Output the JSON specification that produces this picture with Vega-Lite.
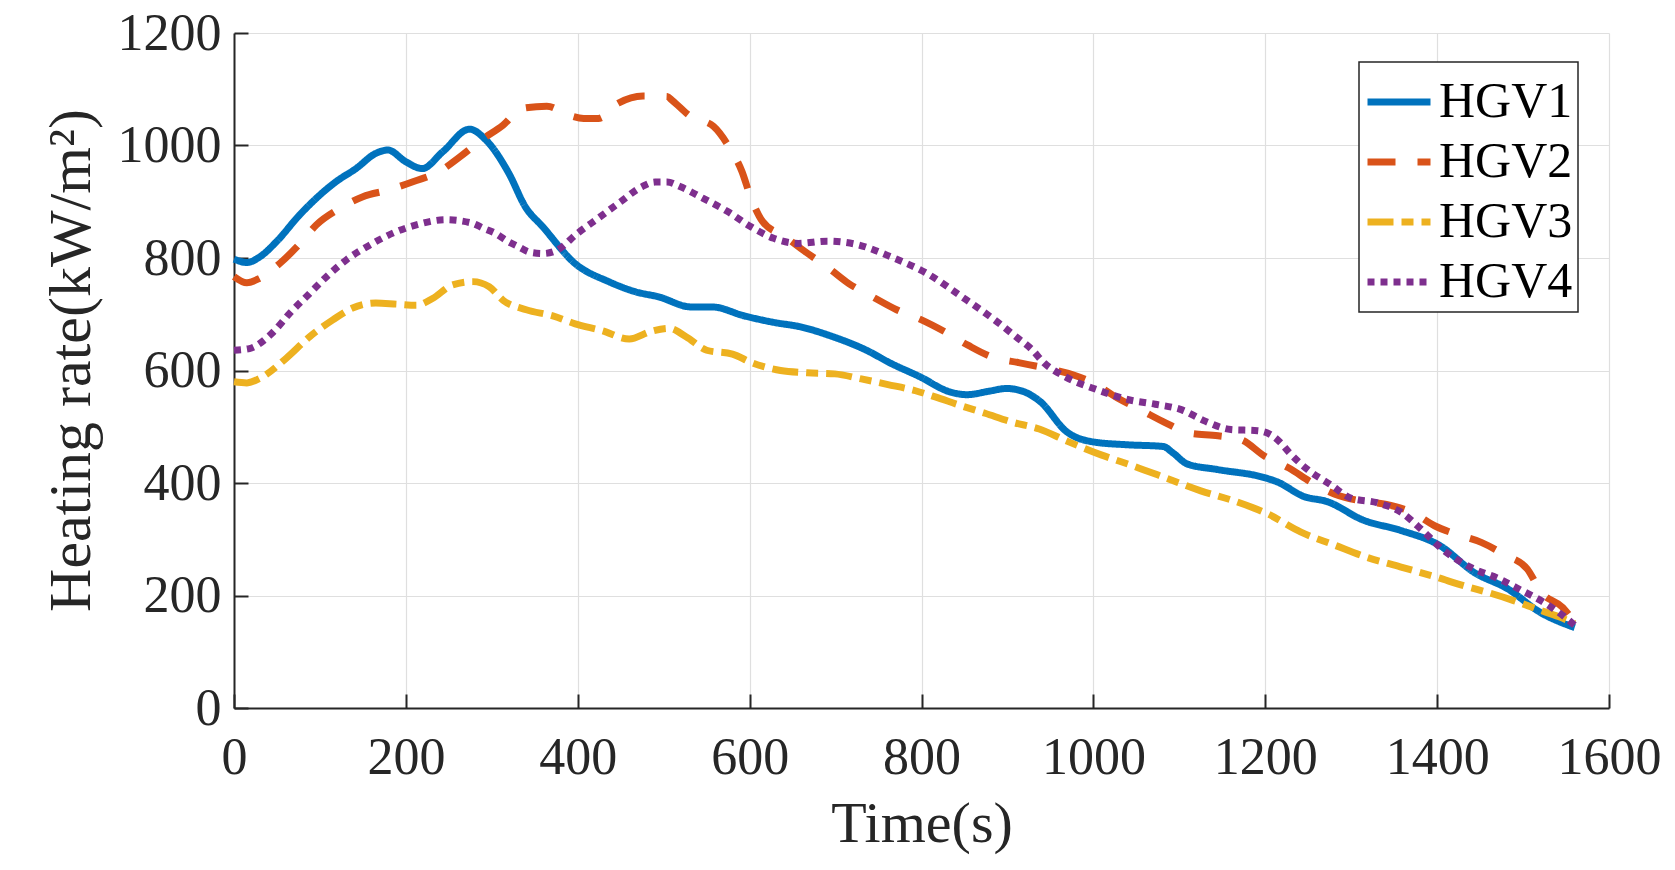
{
  "$schema": "https://vega.github.io/schema/vega-lite/v6.json",
  "width": 1375,
  "height": 675,
  "autosize": {"type": "none"},
  "padding": {"left": 234, "top": 33, "right": 66, "bottom": 162},
  "background": "white",
  "config": {
    "view": {"stroke": null},
    "font": "Liberation Serif",
    "axis": {
      "labelFont": "Liberation Serif",
      "titleFont": "Liberation Serif",
      "labelFontSize": 52,
      "titleFontSize": 58,
      "titleFontWeight": "normal",
      "labelColor": "#262626",
      "titleColor": "#262626",
      "domainColor": "#262626",
      "domainWidth": 2,
      "tickColor": "#262626",
      "tickWidth": 2,
      "tickSize": -14,
      "gridColor": "#dfdfdf",
      "gridWidth": 1.2,
      "labelFlush": false,
      "labelOverlap": false,
      "format": "d"
    },
    "legend": {
      "labelFont": "Liberation Serif",
      "labelFontSize": 50,
      "labelColor": "#000000"
    }
  },
  "data": {
    "values": [
      {"t": 0, "v": 798, "s": "HGV1"}, {"t": 15, "v": 792, "s": "HGV1"}, {"t": 30, "v": 802, "s": "HGV1"},
      {"t": 50, "v": 830, "s": "HGV1"}, {"t": 76, "v": 876, "s": "HGV1"}, {"t": 119, "v": 936, "s": "HGV1"},
      {"t": 142, "v": 959, "s": "HGV1"}, {"t": 165, "v": 986, "s": "HGV1"}, {"t": 179, "v": 992, "s": "HGV1"},
      {"t": 200, "v": 971, "s": "HGV1"}, {"t": 219, "v": 959, "s": "HGV1"}, {"t": 243, "v": 989, "s": "HGV1"},
      {"t": 274, "v": 1029, "s": "HGV1"}, {"t": 293, "v": 1010, "s": "HGV1"}, {"t": 320, "v": 950, "s": "HGV1"},
      {"t": 339, "v": 891, "s": "HGV1"}, {"t": 359, "v": 856, "s": "HGV1"}, {"t": 397, "v": 790, "s": "HGV1"},
      {"t": 436, "v": 758, "s": "HGV1"}, {"t": 467, "v": 740, "s": "HGV1"}, {"t": 494, "v": 731, "s": "HGV1"},
      {"t": 532, "v": 713, "s": "HGV1"}, {"t": 556, "v": 713, "s": "HGV1"}, {"t": 594, "v": 697, "s": "HGV1"},
      {"t": 630, "v": 685, "s": "HGV1"}, {"t": 658, "v": 678, "s": "HGV1"}, {"t": 697, "v": 660, "s": "HGV1"},
      {"t": 736, "v": 636, "s": "HGV1"}, {"t": 764, "v": 613, "s": "HGV1"}, {"t": 798, "v": 589, "s": "HGV1"},
      {"t": 833, "v": 562, "s": "HGV1"}, {"t": 853, "v": 557, "s": "HGV1"}, {"t": 878, "v": 563, "s": "HGV1"},
      {"t": 899, "v": 568, "s": "HGV1"}, {"t": 918, "v": 563, "s": "HGV1"}, {"t": 938, "v": 545, "s": "HGV1"},
      {"t": 969, "v": 491, "s": "HGV1"}, {"t": 1000, "v": 473, "s": "HGV1"}, {"t": 1039, "v": 468, "s": "HGV1"},
      {"t": 1081, "v": 465, "s": "HGV1"}, {"t": 1093, "v": 453, "s": "HGV1"}, {"t": 1109, "v": 434, "s": "HGV1"},
      {"t": 1144, "v": 424, "s": "HGV1"}, {"t": 1198, "v": 410, "s": "HGV1"}, {"t": 1214, "v": 402, "s": "HGV1"},
      {"t": 1245, "v": 376, "s": "HGV1"}, {"t": 1272, "v": 367, "s": "HGV1"}, {"t": 1314, "v": 334, "s": "HGV1"},
      {"t": 1357, "v": 316, "s": "HGV1"}, {"t": 1404, "v": 288, "s": "HGV1"}, {"t": 1443, "v": 241, "s": "HGV1"},
      {"t": 1482, "v": 212, "s": "HGV1"}, {"t": 1520, "v": 170, "s": "HGV1"}, {"t": 1560, "v": 143, "s": "HGV1"},

      {"t": 0, "v": 767, "s": "HGV2"}, {"t": 15, "v": 756, "s": "HGV2"}, {"t": 30, "v": 764, "s": "HGV2"},
      {"t": 53, "v": 790, "s": "HGV2"}, {"t": 77, "v": 826, "s": "HGV2"}, {"t": 96, "v": 859, "s": "HGV2"},
      {"t": 123, "v": 888, "s": "HGV2"}, {"t": 150, "v": 909, "s": "HGV2"}, {"t": 180, "v": 921, "s": "HGV2"},
      {"t": 209, "v": 936, "s": "HGV2"}, {"t": 238, "v": 953, "s": "HGV2"}, {"t": 263, "v": 980, "s": "HGV2"},
      {"t": 288, "v": 1010, "s": "HGV2"}, {"t": 313, "v": 1036, "s": "HGV2"}, {"t": 335, "v": 1066, "s": "HGV2"},
      {"t": 364, "v": 1070, "s": "HGV2"}, {"t": 391, "v": 1053, "s": "HGV2"}, {"t": 407, "v": 1048, "s": "HGV2"},
      {"t": 424, "v": 1048, "s": "HGV2"}, {"t": 447, "v": 1075, "s": "HGV2"}, {"t": 476, "v": 1088, "s": "HGV2"},
      {"t": 504, "v": 1087, "s": "HGV2"}, {"t": 510, "v": 1080, "s": "HGV2"}, {"t": 531, "v": 1052, "s": "HGV2"},
      {"t": 558, "v": 1034, "s": "HGV2"}, {"t": 577, "v": 995, "s": "HGV2"}, {"t": 591, "v": 954, "s": "HGV2"},
      {"t": 601, "v": 909, "s": "HGV2"}, {"t": 615, "v": 865, "s": "HGV2"}, {"t": 641, "v": 838, "s": "HGV2"},
      {"t": 664, "v": 812, "s": "HGV2"}, {"t": 692, "v": 782, "s": "HGV2"}, {"t": 715, "v": 755, "s": "HGV2"},
      {"t": 743, "v": 731, "s": "HGV2"}, {"t": 771, "v": 708, "s": "HGV2"}, {"t": 800, "v": 690, "s": "HGV2"},
      {"t": 827, "v": 669, "s": "HGV2"}, {"t": 854, "v": 645, "s": "HGV2"}, {"t": 882, "v": 624, "s": "HGV2"},
      {"t": 913, "v": 614, "s": "HGV2"}, {"t": 942, "v": 605, "s": "HGV2"}, {"t": 977, "v": 592, "s": "HGV2"},
      {"t": 1001, "v": 577, "s": "HGV2"}, {"t": 1028, "v": 551, "s": "HGV2"}, {"t": 1055, "v": 530, "s": "HGV2"},
      {"t": 1084, "v": 507, "s": "HGV2"}, {"t": 1111, "v": 489, "s": "HGV2"}, {"t": 1145, "v": 484, "s": "HGV2"},
      {"t": 1172, "v": 477, "s": "HGV2"}, {"t": 1199, "v": 448, "s": "HGV2"}, {"t": 1227, "v": 427, "s": "HGV2"},
      {"t": 1254, "v": 401, "s": "HGV2"}, {"t": 1281, "v": 380, "s": "HGV2"}, {"t": 1312, "v": 368, "s": "HGV2"},
      {"t": 1341, "v": 362, "s": "HGV2"}, {"t": 1372, "v": 347, "s": "HGV2"}, {"t": 1397, "v": 324, "s": "HGV2"},
      {"t": 1422, "v": 309, "s": "HGV2"}, {"t": 1452, "v": 294, "s": "HGV2"}, {"t": 1479, "v": 272, "s": "HGV2"},
      {"t": 1505, "v": 247, "s": "HGV2"}, {"t": 1521, "v": 206, "s": "HGV2"}, {"t": 1546, "v": 179, "s": "HGV2"},
      {"t": 1561, "v": 150, "s": "HGV2"},

      {"t": 0, "v": 580, "s": "HGV3"}, {"t": 15, "v": 578, "s": "HGV3"}, {"t": 30, "v": 586, "s": "HGV3"},
      {"t": 61, "v": 622, "s": "HGV3"}, {"t": 88, "v": 660, "s": "HGV3"}, {"t": 115, "v": 690, "s": "HGV3"},
      {"t": 138, "v": 711, "s": "HGV3"}, {"t": 165, "v": 720, "s": "HGV3"}, {"t": 189, "v": 718, "s": "HGV3"},
      {"t": 212, "v": 716, "s": "HGV3"}, {"t": 231, "v": 728, "s": "HGV3"}, {"t": 254, "v": 752, "s": "HGV3"},
      {"t": 278, "v": 758, "s": "HGV3"}, {"t": 297, "v": 749, "s": "HGV3"}, {"t": 313, "v": 725, "s": "HGV3"},
      {"t": 340, "v": 708, "s": "HGV3"}, {"t": 371, "v": 697, "s": "HGV3"}, {"t": 397, "v": 683, "s": "HGV3"},
      {"t": 428, "v": 671, "s": "HGV3"}, {"t": 460, "v": 656, "s": "HGV3"}, {"t": 484, "v": 669, "s": "HGV3"},
      {"t": 506, "v": 675, "s": "HGV3"}, {"t": 526, "v": 660, "s": "HGV3"}, {"t": 550, "v": 636, "s": "HGV3"},
      {"t": 580, "v": 629, "s": "HGV3"}, {"t": 604, "v": 613, "s": "HGV3"}, {"t": 636, "v": 600, "s": "HGV3"},
      {"t": 667, "v": 596, "s": "HGV3"}, {"t": 699, "v": 594, "s": "HGV3"}, {"t": 730, "v": 585, "s": "HGV3"},
      {"t": 761, "v": 575, "s": "HGV3"}, {"t": 793, "v": 564, "s": "HGV3"}, {"t": 816, "v": 553, "s": "HGV3"},
      {"t": 843, "v": 539, "s": "HGV3"}, {"t": 874, "v": 524, "s": "HGV3"}, {"t": 906, "v": 508, "s": "HGV3"},
      {"t": 937, "v": 496, "s": "HGV3"}, {"t": 970, "v": 474, "s": "HGV3"}, {"t": 1009, "v": 450, "s": "HGV3"},
      {"t": 1047, "v": 430, "s": "HGV3"}, {"t": 1086, "v": 408, "s": "HGV3"}, {"t": 1125, "v": 386, "s": "HGV3"},
      {"t": 1164, "v": 368, "s": "HGV3"}, {"t": 1203, "v": 345, "s": "HGV3"}, {"t": 1241, "v": 313, "s": "HGV3"},
      {"t": 1280, "v": 290, "s": "HGV3"}, {"t": 1318, "v": 268, "s": "HGV3"}, {"t": 1357, "v": 251, "s": "HGV3"},
      {"t": 1396, "v": 234, "s": "HGV3"}, {"t": 1434, "v": 216, "s": "HGV3"}, {"t": 1460, "v": 205, "s": "HGV3"},
      {"t": 1489, "v": 191, "s": "HGV3"}, {"t": 1516, "v": 176, "s": "HGV3"}, {"t": 1542, "v": 162, "s": "HGV3"},
      {"t": 1560, "v": 150, "s": "HGV3"},

      {"t": 0, "v": 636, "s": "HGV4"}, {"t": 18, "v": 639, "s": "HGV4"}, {"t": 44, "v": 666, "s": "HGV4"},
      {"t": 65, "v": 702, "s": "HGV4"}, {"t": 88, "v": 737, "s": "HGV4"}, {"t": 110, "v": 770, "s": "HGV4"},
      {"t": 131, "v": 797, "s": "HGV4"}, {"t": 158, "v": 823, "s": "HGV4"}, {"t": 186, "v": 845, "s": "HGV4"},
      {"t": 215, "v": 860, "s": "HGV4"}, {"t": 246, "v": 868, "s": "HGV4"}, {"t": 277, "v": 862, "s": "HGV4"},
      {"t": 290, "v": 853, "s": "HGV4"}, {"t": 304, "v": 844, "s": "HGV4"}, {"t": 318, "v": 830, "s": "HGV4"},
      {"t": 331, "v": 820, "s": "HGV4"}, {"t": 345, "v": 810, "s": "HGV4"}, {"t": 360, "v": 808, "s": "HGV4"},
      {"t": 376, "v": 814, "s": "HGV4"}, {"t": 399, "v": 843, "s": "HGV4"}, {"t": 424, "v": 871, "s": "HGV4"},
      {"t": 449, "v": 899, "s": "HGV4"}, {"t": 475, "v": 927, "s": "HGV4"}, {"t": 490, "v": 935, "s": "HGV4"},
      {"t": 504, "v": 935, "s": "HGV4"}, {"t": 519, "v": 927, "s": "HGV4"}, {"t": 546, "v": 906, "s": "HGV4"},
      {"t": 574, "v": 883, "s": "HGV4"}, {"t": 601, "v": 856, "s": "HGV4"}, {"t": 628, "v": 835, "s": "HGV4"},
      {"t": 657, "v": 826, "s": "HGV4"}, {"t": 690, "v": 830, "s": "HGV4"}, {"t": 722, "v": 825, "s": "HGV4"},
      {"t": 766, "v": 801, "s": "HGV4"}, {"t": 807, "v": 772, "s": "HGV4"}, {"t": 846, "v": 732, "s": "HGV4"},
      {"t": 885, "v": 690, "s": "HGV4"}, {"t": 910, "v": 660, "s": "HGV4"}, {"t": 928, "v": 638, "s": "HGV4"},
      {"t": 943, "v": 613, "s": "HGV4"}, {"t": 967, "v": 589, "s": "HGV4"}, {"t": 1004, "v": 566, "s": "HGV4"},
      {"t": 1041, "v": 548, "s": "HGV4"}, {"t": 1072, "v": 540, "s": "HGV4"}, {"t": 1103, "v": 530, "s": "HGV4"},
      {"t": 1130, "v": 510, "s": "HGV4"}, {"t": 1160, "v": 495, "s": "HGV4"}, {"t": 1191, "v": 493, "s": "HGV4"},
      {"t": 1205, "v": 487, "s": "HGV4"}, {"t": 1217, "v": 473, "s": "HGV4"}, {"t": 1228, "v": 454, "s": "HGV4"},
      {"t": 1250, "v": 423, "s": "HGV4"}, {"t": 1275, "v": 398, "s": "HGV4"}, {"t": 1300, "v": 373, "s": "HGV4"},
      {"t": 1330, "v": 365, "s": "HGV4"}, {"t": 1359, "v": 347, "s": "HGV4"}, {"t": 1382, "v": 317, "s": "HGV4"},
      {"t": 1404, "v": 285, "s": "HGV4"}, {"t": 1443, "v": 247, "s": "HGV4"}, {"t": 1470, "v": 231, "s": "HGV4"},
      {"t": 1497, "v": 210, "s": "HGV4"}, {"t": 1524, "v": 188, "s": "HGV4"}, {"t": 1550, "v": 160, "s": "HGV4"},
      {"t": 1560, "v": 147, "s": "HGV4"}
    ]
  },
  "mark": {"type": "line", "strokeWidth": 7, "interpolate": "monotone"},
  "encoding": {
    "x": {
      "field": "t",
      "type": "quantitative",
      "title": "Time(s)",
      "scale": {"domain": [0, 1600], "nice": false},
      "axis": {"values": [0, 200, 400, 600, 800, 1000, 1200, 1400, 1600], "labelPadding": 38, "titlePadding": 12}
    },
    "y": {
      "field": "v",
      "type": "quantitative",
      "title": "Heating rate(kW/m²)",
      "scale": {"domain": [0, 1200], "nice": false},
      "axis": {"values": [0, 200, 400, 600, 800, 1000, 1200], "labelPadding": 27, "titlePadding": 15, "titleFontSize": 60, "titleY": 327}
    },
    "color": {
      "field": "s",
      "type": "nominal",
      "scale": {"domain": ["HGV1", "HGV2", "HGV3", "HGV4"], "range": ["#0072BD", "#D95319", "#EDB120", "#7E2F8E"]},
      "legend": {
        "title": null,
        "orient": "none",
        "legendX": 1125,
        "legendY": 29,
        "symbolType": "stroke",
        "symbolSize": 3969,
        "symbolStrokeWidth": 7,
        "labelOffset": 5,
        "padding": 5,
        "rowPadding": -4,
        "strokeColor": "#262626",
        "fillColor": "white",
        "encode": {"legend": {"update": {"strokeWidth": {"value": 1.5}}}}
      }
    },
    "strokeDash": {
      "field": "s",
      "type": "nominal",
      "scale": {"domain": ["HGV1", "HGV2", "HGV3", "HGV4"], "range": [[1, 0], [28, 22], [26, 8, 12, 8], [7, 6]]},
      "legend": null
    }
  }
}
